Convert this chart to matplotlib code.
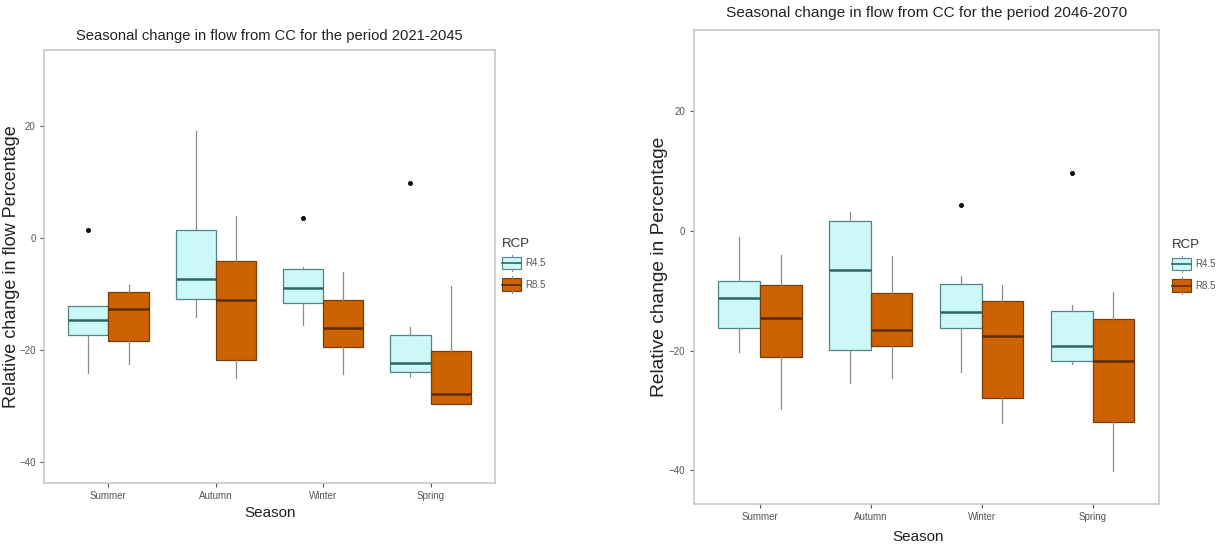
import matplotlib
matplotlib.use("Agg")
import matplotlib.pyplot as plt
from matplotlib.legend_handler import HandlerBase
from matplotlib.patches import Rectangle
from matplotlib.lines import Line2D

plt.rcParams['font.family'] = ['Liberation Sans', 'DejaVu Sans']

seasons = ["Summer", "Autumn", "Winter", "Spring"]
rcps = ["R4.5", "R8.5"]

# 2021-2045 box statistics per season: whisker low, Q1, median, Q3, whisker high
p1_r45_lo = [-24.1, -14.1, -15.5, -24.9]
p1_r45_q1 = [-17.3, -10.8, -11.6, -23.9]
p1_r45_med = [-14.6, -7.3, -8.9, -22.3]
p1_r45_q3 = [-12.2, 1.4, -5.6, -17.4]
p1_r45_hi = [-12.2, 19.2, -5.1, -15.9]
p1_r45_out = [[1.5], [], [3.6], [9.8]]

p1_r85_lo = [-22.5, -25.0, -24.3, -29.7]
p1_r85_q1 = [-18.3, -21.8, -19.4, -29.7]
p1_r85_med = [-12.6, -11.1, -16.0, -27.9]
p1_r85_q3 = [-9.7, -4.1, -11.0, -20.1]
p1_r85_hi = [-8.4, 3.9, -6.1, -8.6]
p1_r85_out = [[], [], [], []]

# 2046-2070
p2_r45_lo = [-20.3, -25.5, -23.6, -22.2]
p2_r45_q1 = [-16.3, -19.9, -16.3, -21.8]
p2_r45_med = [-11.2, -6.5, -13.5, -19.3]
p2_r45_q3 = [-8.4, 1.6, -8.8, -13.4]
p2_r45_hi = [-1.0, 3.1, -7.6, -12.4]
p2_r45_out = [[], [], [4.4], [9.7]]

p2_r85_lo = [-29.8, -24.5, -32.1, -40.1]
p2_r85_q1 = [-21.0, -19.3, -28.0, -31.9]
p2_r85_med = [-14.5, -16.5, -17.5, -21.8]
p2_r85_q3 = [-9.1, -10.3, -11.7, -14.7]
p2_r85_hi = [-4.0, -4.2, -9.0, -10.2]
p2_r85_out = [[], [], [], []]

fills = ["#ccf8f8", "#cc6202"]
edges = ["#4f8585", "#7a3c08"]
medians = ["#2e6565", "#5e2a00"]
whisker_col = "#8c8c8c"
spine_col = "#c4c4c4"
text_col = "#222222"
tick_col = "#555555"


def stats(lo, q1, med, q3, hi, out):
    return [dict(whislo=a, q1=b, med=c, q3=d, whishi=e, fliers=f)
            for a, b, c, d, e, f in zip(lo, q1, med, q3, hi, out)]


class BoxKey(HandlerBase):
    # ggplot-like legend key: small box with median and whisker stubs
    def __init__(self, fill, edge, med):
        super().__init__()
        self.fill, self.edge, self.med = fill, edge, med

    def create_artists(self, legend, orig, xd, yd, w, h, fs, trans):
        x0, y0 = -xd, -yd
        cx = x0 + w / 2
        box = Rectangle((x0, y0 + h * 0.12), w, h * 0.76, facecolor=self.fill,
                        edgecolor=self.edge, lw=0.8, transform=trans)
        m = Line2D([x0, x0 + w], [y0 + h / 2] * 2, color=self.med, lw=1.2, transform=trans)
        w1 = Line2D([cx, cx], [y0, y0 + h * 0.12], color=whisker_col, lw=0.8, transform=trans)
        w2 = Line2D([cx, cx], [y0 + h * 0.88, y0 + h], color=whisker_col, lw=0.8, transform=trans)
        return [box, m, w1, w2]


def draw_panel(ax, groups, title, ylabel, ylim, title_y, title_fs, xlab_xy, ylab_x, ylab_fs,
               leg_xy, fs_scale):
    pos = list(range(1, len(seasons) + 1))
    for k, st in enumerate(groups):
        offset = -0.1875 if k == 0 else 0.1875
        ax.bxp(st, positions=[p + offset for p in pos], widths=0.375,
               patch_artist=True, showcaps=False,
               boxprops=dict(facecolor=fills[k], edgecolor=edges[k], linewidth=0.9),
               medianprops=dict(color=medians[k], linewidth=1.8),
               whiskerprops=dict(color=whisker_col, linewidth=0.9),
               flierprops=dict(marker='o', markersize=2.6, markerfacecolor='#111111',
                               markeredgecolor='#111111'))
    ax.set_xlim(0.4, 4.6)
    ax.set_ylim(*ylim)
    ax.set_xticks(pos)
    ax.set_xticklabels(seasons)
    ax.set_yticks([-40, -20, 0, 20])
    ax.tick_params(colors=tick_col, labelsize=7 * fs_scale, length=3, width=0.8, pad=3)
    for s in ax.spines.values():
        s.set_color(spine_col)
        s.set_linewidth(1.1)

    bb = ax.get_position()
    ax.figure.text((bb.x0 + bb.x1) / 2, title_y, title, ha='center', va='center',
                   fontsize=title_fs, color=text_col)
    ax.set_xlabel("Season", fontsize=11, color=text_col)
    ax.xaxis.set_label_coords(*xlab_xy)
    ax.set_ylabel(ylabel, fontsize=ylab_fs, color=text_col)
    ax.yaxis.set_label_coords(ylab_x, 0.5)

    handles = [Rectangle((0, 0), 1, 1), Rectangle((0, 0), 1, 1)]
    hmap = {handles[i]: BoxKey(fills[i], edges[i], medians[i]) for i in range(2)}
    leg = ax.legend(handles, rcps, handler_map=hmap, title="RCP", loc='upper left',
                    bbox_to_anchor=leg_xy, bbox_transform=ax.figure.transFigure,
                    frameon=False, fontsize=7 * fs_scale, title_fontsize=9.5 * fs_scale,
                    handlelength=2.0, handleheight=2.2, handletextpad=0.4,
                    labelspacing=0.52, borderaxespad=0, borderpad=0)
    leg._legend_box.align = "left"
    for t in leg.get_texts():
        t.set_color(tick_col)
    leg.get_title().set_color("#333333")


fig = plt.figure(figsize=(12.25, 5.5), dpi=100)
ax1 = fig.add_axes([44 / 1225, 1 - 483 / 550, 451 / 1225, 433 / 550])
ax2 = fig.add_axes([693.5 / 1225, 1 - 504 / 550, 465.5 / 1225, 474 / 550])

draw_panel(ax1,
           [stats(p1_r45_lo, p1_r45_q1, p1_r45_med, p1_r45_q3, p1_r45_hi, p1_r45_out),
            stats(p1_r85_lo, p1_r85_q1, p1_r85_med, p1_r85_q3, p1_r85_hi, p1_r85_out)],
           "Seasonal change in flow from CC for the period 2021-2045",
           "Relative change in flow Percentage", (-43.75, 33.6),
           1 - 36 / 550, 10.6, (0.501, -0.053), -0.053, 13.0,
           (502 / 1225, 1 - 238 / 550), 1.0)

draw_panel(ax2,
           [stats(p2_r45_lo, p2_r45_q1, p2_r45_med, p2_r45_q3, p2_r45_hi, p2_r45_out),
            stats(p2_r85_lo, p2_r85_q1, p2_r85_med, p2_r85_q3, p2_r85_hi, p2_r85_out)],
           "Seasonal change in flow from CC for the period 2046-2070",
           "Relative change in Percentage", (-45.65, 33.6),
           1 - 13 / 550, 11.1, (0.482, -0.055), -0.054, 13.8,
           (1172 / 1225, 1 - 239 / 550), 1.0)

fig.savefig("out.png", dpi=100)
